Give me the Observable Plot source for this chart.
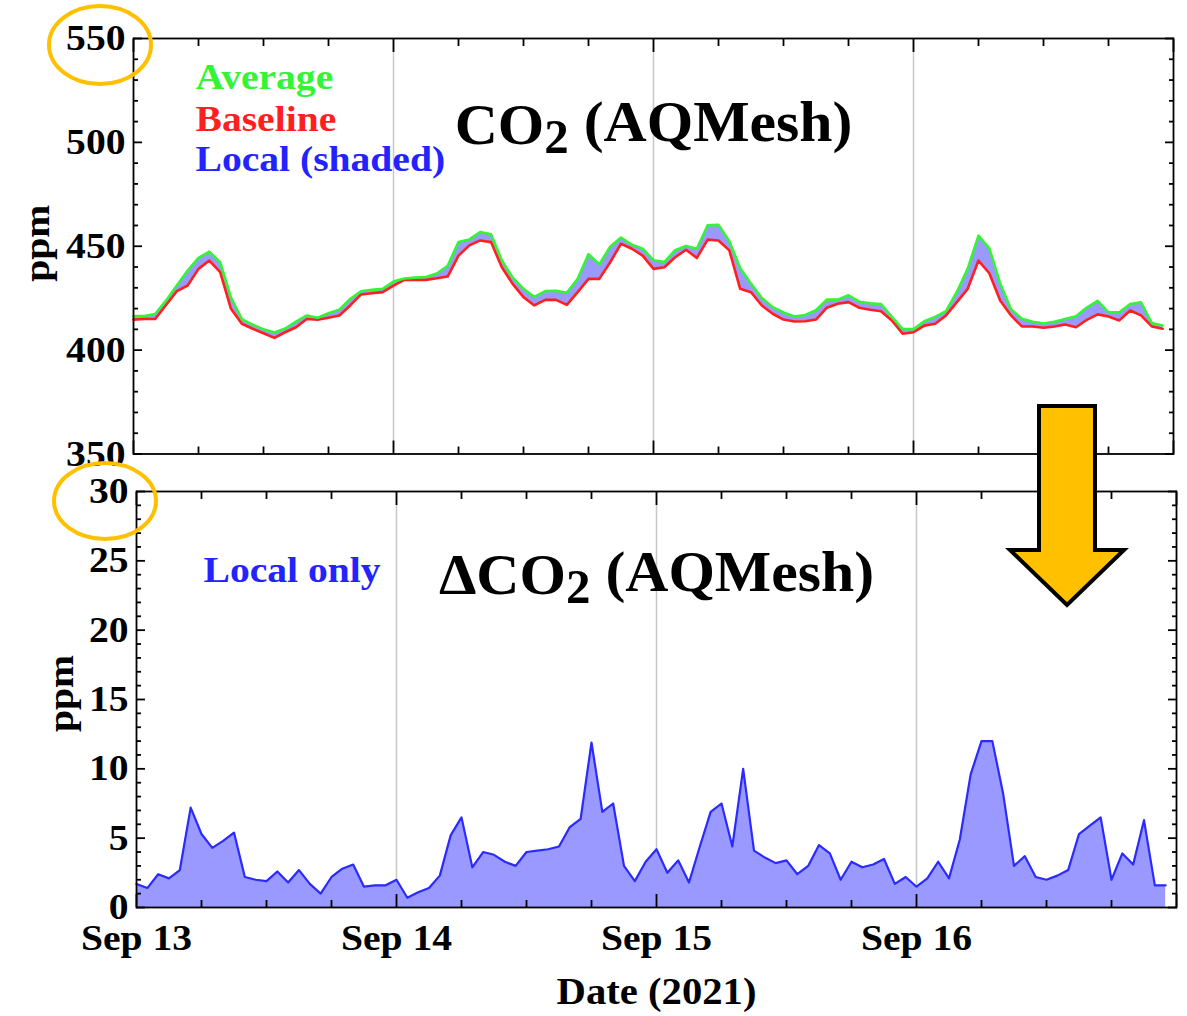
<!DOCTYPE html>
<html><head><meta charset="utf-8">
<script src="https://cdn.jsdelivr.net/npm/d3@7"></script>
<script src="https://cdn.jsdelivr.net/npm/@observablehq/plot@0.6"></script>
<style>
body{margin:0;background:#fff;}
#wrap{position:relative;width:1187px;height:1016px;overflow:hidden;background:#fff;}
#wrap svg.plotsvg{display:block}
#deco{position:absolute;left:0;top:0;pointer-events:none}
</style></head><body><div id="wrap"></div>
<script>
// ---- data (hourly, starting 2021-09-13 00:00) ----
const startDate = "2021-09-13T00:00Z";
const endDate = "2021-09-17T00:00Z";
const dayLabels = ["Sep 13", "Sep 14", "Sep 15", "Sep 16"];
const topYTicks = [350, 400, 450, 500, 550];
const bottomYTicks = [0, 5, 10, 15, 20, 25, 30];
const legendLabels = ["Average", "Baseline", "Local (shaded)"];
const legendColors = ["#33f533", "#ff1f1f", "#2323ff"];

const averageCO2 = [
  416.4,416.4,417.4,423.8,431.1,438.3,444.4,447.4,442.3,425.3,
  414.9,412.3,410.0,408.5,410.4,413.7,416.7,415.6,417.8,419.5,
  424.6,428.3,429.0,429.5,433.0,434.5,434.9,435.2,436.9,440.6,
  452.0,453.3,456.8,455.8,443.2,434.9,429.5,425.6,428.4,428.6,
  427.6,434.3,446.2,441.2,449.8,454.2,450.7,448.8,443.3,442.4,
  448.1,450.1,448.8,460.1,460.3,452.4,439.5,432.0,425.1,420.7,
  418.1,416.2,416.9,419.2,424.3,424.3,426.4,423.3,422.5,422.2,
  416.0,410.1,410.1,413.9,416.0,418.8,428.0,439.1,455.1,449.0,
  432.1,419.7,415.1,413.6,412.8,413.7,415.0,416.3,420.5,423.7,
  418.2,418.2,422.2,423.0,413.0,411.9];

const baselineCO2 = [
  414.7,415.0,415.0,421.7,428.4,431.1,439.1,443.1,437.5,419.9,
  412.7,410.3,408.1,405.9,408.6,411.0,415.0,414.6,415.6,416.7,
  421.5,426.8,427.4,427.9,431.0,433.8,433.8,433.8,434.6,435.4,
  445.5,450.4,452.8,452.0,439.9,431.9,425.5,421.5,424.2,424.2,
  421.8,427.9,434.3,434.3,442.3,451.2,448.8,445.5,439.1,439.9,
  444.7,448.3,444.4,453.2,452.8,448.0,429.5,427.9,421.5,417.5,
  414.7,413.8,413.9,414.7,420.4,422.3,423.1,420.4,419.4,418.7,
  414.3,407.9,408.6,411.8,412.7,416.7,423.1,429.5,443.1,437.0,
  423.9,416.7,411.4,411.4,410.8,411.4,412.3,411.0,414.6,417.2,
  416.2,414.3,419.1,416.7,411.4,410.3];

const localCO2 = [
  1.7,1.4,2.4,2.1,2.7,7.2,5.3,4.3,4.8,5.4,
  2.2,2.0,1.9,2.6,1.8,2.7,1.7,1.0,2.2,2.8,
  3.1,1.5,1.6,1.6,2.0,0.7,1.1,1.4,2.3,5.2,
  6.5,2.9,4.0,3.8,3.3,3.0,4.0,4.1,4.2,4.4,
  5.8,6.4,11.9,6.9,7.5,3.0,1.9,3.3,4.2,2.5,
  3.4,1.8,4.4,6.9,7.5,4.4,10.0,4.1,3.6,3.2,
  3.4,2.4,3.0,4.5,3.9,2.0,3.3,2.9,3.1,3.5,
  1.7,2.2,1.5,2.1,3.3,2.1,4.9,9.6,12.0,12.0,
  8.2,3.0,3.7,2.2,2.0,2.3,2.7,5.3,5.9,6.5,
  2.0,3.9,3.1,6.3,1.6,1.6];

// ---- derived tables ----
const t0 = new Date(startDate), t1 = new Date(endDate);
const rows = averageCO2.map((v, i) => ({
  t: d3.utcHour.offset(t0, i), avg: v, base: baselineCO2[i], local: localCO2[i]
}));
const dayTicks = d3.utcDay.range(t0, t1);            // Sep 13..16
const allDayTicks = d3.utcDay.range(t0, d3.utcHour.offset(t1, 1));
const minorXTicks = d3.utcHour.every(6).range(t0, t1).filter(d => d.getUTCHours() !== 0);
const labelOf = d => dayLabels[dayTicks.findIndex(t => +t === +d)] ?? "";

const FONT = "'Liberation Serif', 'Times New Roman', serif";
const none = () => "";

function frameAxes(yMajor, yMinor, withXLabels) {
  const tk = {stroke: "black", strokeWidth: 1.8, label: null};
  return [
    Plot.axisY({anchor: "left", ticks: yMajor, tickSize: -9, tickPadding: 17, tickFormat: d => String(d), ...tk}),
    Plot.axisY({anchor: "left", ticks: yMinor, tickSize: -5, tickFormat: none, ...tk}),
    Plot.axisY({anchor: "right", ticks: yMajor, tickSize: -9, tickFormat: none, ...tk}),
    Plot.axisY({anchor: "right", ticks: yMinor, tickSize: -5, tickFormat: none, ...tk}),
    Plot.axisX({anchor: "top", ticks: allDayTicks, tickSize: -13, tickFormat: none, ...tk}),
    Plot.axisX({anchor: "top", ticks: minorXTicks, tickSize: -7, tickFormat: none, ...tk}),
    Plot.axisX({anchor: "bottom", ticks: allDayTicks, tickSize: -13, tickPadding: 30,
      tickFormat: withXLabels ? labelOf : none, ...tk}),
    Plot.axisX({anchor: "bottom", ticks: minorXTicks, tickSize: -7, tickFormat: none, ...tk})
  ];
}

const baseStyle = {fontFamily: FONT, fontSize: "36px", fontWeight: "bold", color: "black", background: "transparent", overflow: "visible"};

// ---- top panel ----
const topChart = Plot.plot({
  width: 1187, height: 470,
  marginLeft: 133, marginRight: 14, marginTop: 38, marginBottom: 16.5,
  style: baseStyle,
  className: "plotsvg",
  x: {type: "utc", domain: [t0, t1]},
  y: {domain: [350, 550], label: null},
  marks: [
    Plot.ruleX(dayTicks.slice(1), {stroke: "#c8c8c8", strokeWidth: 1.5}),
    Plot.areaY(rows, {x: "t", y1: "base", y2: "avg", fill: "#9999ff"}),
    Plot.line(rows, {x: "t", y: "base", stroke: legendColors[1], strokeWidth: 2.6}),
    Plot.line(rows, {x: "t", y: "avg", stroke: legendColors[0], strokeWidth: 2.6}),
    ...legendLabels.map((s, i) => Plot.text([s], {
      text: d => d, frameAnchor: "top-left", textAnchor: "start", lineAnchor: "bottom",
      dx: 62, dy: [50, 92, 132][i], fill: legendColors[i], fontSize: 36, fontWeight: "bold", fontFamily: FONT
    })),
    Plot.text(["CO2 (AQMesh)"], {text: d => d, frameAnchor: "top", textAnchor: "middle", lineAnchor: "bottom", dy: 105,
      fontSize: 58, fontWeight: "bold", fontFamily: FONT, fill: "black", className: "title"}),
    Plot.text(["ppm"], {text: d => d, frameAnchor: "left", textAnchor: "middle", rotate: -90, dx: -96, dy: -3,
      fontSize: 36, fontWeight: "bold", fontFamily: FONT, fill: "black"}),
    ...frameAxes(topYTicks, d3.range(350, 551, 10).filter(v => v % 50), false),
    Plot.frame({stroke: "black", strokeWidth: 1.8})
  ]
});

// ---- bottom panel ----
const bottomChart = Plot.plot({
  width: 1187, height: 546,
  marginLeft: 136, marginRight: 11, marginTop: 21, marginBottom: 109,
  style: baseStyle,
  className: "plotsvg",
  x: {type: "utc", domain: [t0, t1]},
  y: {domain: [0, 30], label: null},
  marks: [
    Plot.ruleX(dayTicks.slice(1), {stroke: "#c8c8c8", strokeWidth: 1.5}),
    Plot.areaY(rows, {x: "t", y: "local", fill: "#9999ff"}),
    Plot.lineY(rows, {x: "t", y: "local", stroke: "#2b2bff", strokeWidth: 2.2}),
    Plot.text(["Local only"], {text: d => d, frameAnchor: "top-left", textAnchor: "start", lineAnchor: "bottom",
      dx: 67, dy: 90, fill: "#2323ff", fontSize: 36, fontWeight: "bold", fontFamily: FONT}),
    Plot.text(["\u0394CO2 (AQMesh)"], {text: d => d, frameAnchor: "top", textAnchor: "middle", lineAnchor: "bottom", dy: 102,
      fontSize: 58, fontWeight: "bold", fontFamily: FONT, fill: "black", className: "title"}),
    Plot.text(["ppm"], {text: d => d, frameAnchor: "left", textAnchor: "middle", rotate: -90, dx: -75, dy: -6,
      fontSize: 36, fontWeight: "bold", fontFamily: FONT, fill: "black"}),
    Plot.text(["Date (2021)"], {text: d => d, frameAnchor: "bottom", textAnchor: "middle", lineAnchor: "bottom", dy: 96,
      fontSize: 37, fontWeight: "bold", fontFamily: FONT, fill: "black"}),
    ...frameAxes(bottomYTicks, d3.range(0, 31, 1).filter(v => v % 5), true),
    Plot.frame({stroke: "black", strokeWidth: 1.8})
  ]
});

// subscript "2" in titles
function subscriptTwo(svg) {
  d3.select(svg).selectAll("g.title text").each(function () {
    const s = this.textContent;
    const i = s.indexOf("2");
    const el = d3.select(this);
    el.text(null);
    el.append("tspan").text(s.slice(0, i));
    el.append("tspan").attr("dy", "0.2em").attr("font-size", "0.82em").text("2");
    el.append("tspan").attr("dy", "-0.2em").text(s.slice(i + 1));
  });
}
// the reference's serif lettering is slightly wider than Liberation Serif
function widenText(svg) {
  d3.select(svg).selectAll("text").each(function () {
    const k = this.closest("g.title") ? 1.03 : 1.1;
    const tr = this.getAttribute("transform");
    if (tr) this.setAttribute("transform", `${tr} scale(${k},1)`);
    else {
      const x = +(this.getAttribute("x") || 0);
      this.setAttribute("transform", `translate(${x},0) scale(${k},1) translate(${-x},0)`);
    }
  });
}
[topChart, bottomChart].forEach(svg => { subscriptTwo(svg); widenText(svg); });

const wrap = document.getElementById("wrap");
wrap.appendChild(topChart);
wrap.appendChild(bottomChart);

// ---- annotation overlay (orange highlights + arrow) ----
const deco = d3.select(wrap).append("svg").attr("id", "deco").attr("width", 1187).attr("height", 1016);
const highlight = [{cx: 100, cy: 45, rx: 51, ry: 39}, {cx: 105, cy: 501, rx: 51, ry: 38}];
deco.selectAll("ellipse").data(highlight).join("ellipse")
  .attr("cx", d => d.cx).attr("cy", d => d.cy).attr("rx", d => d.rx).attr("ry", d => d.ry)
  .attr("fill", "none").attr("stroke", "#ffc000").attr("stroke-width", 4);
const arrowPts = [[1039,406],[1095,406],[1095,550],[1124,550],[1067,605],[1010,550],[1039,550]];
deco.append("polygon").attr("points", arrowPts.map(p => p.join(",")).join(" "))
  .attr("fill", "#ffc000").attr("stroke", "black").attr("stroke-width", 4).attr("stroke-linejoin", "miter");
</script>
</body></html>
